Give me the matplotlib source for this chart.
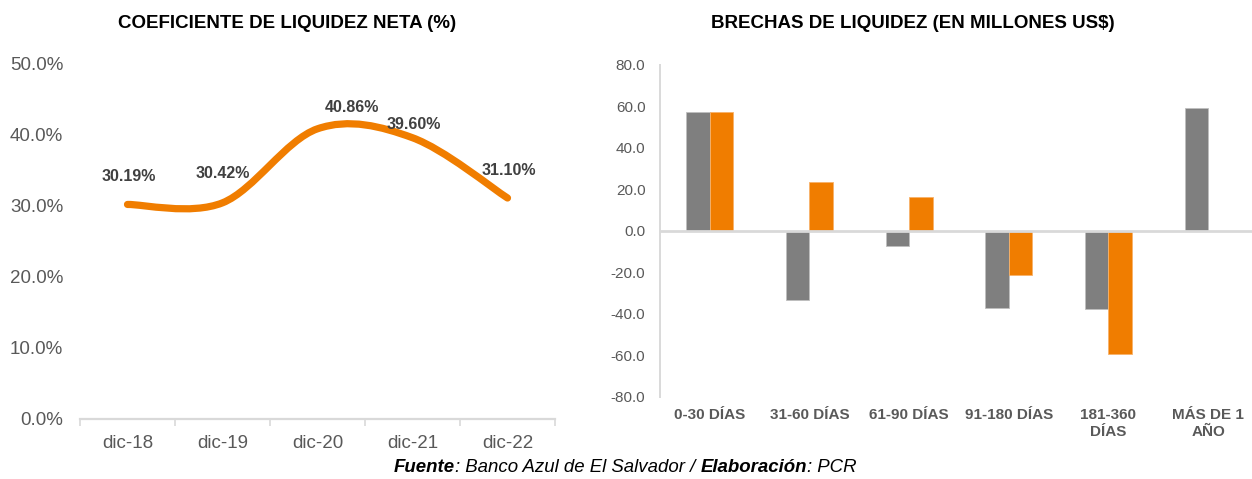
import matplotlib

matplotlib.use("Agg")
import matplotlib.pyplot as plt  # noqa: E402
import numpy as np  # noqa: E402
from matplotlib.offsetbox import AnchoredOffsetbox, HPacker, TextArea  # noqa: E402
from matplotlib.patches import PathPatch  # noqa: E402
from matplotlib.path import Path  # noqa: E402

# ----------------------------------------------------------------------------
# Data
# ----------------------------------------------------------------------------
years = ["dic-18", "dic-19", "dic-20", "dic-21", "dic-22"]
liquidez_neta = [30.19, 30.42, 40.86, 39.60, 31.10]
liquidez_labels = ["30.19%", "30.42%", "40.86%", "39.60%", "31.10%"]

bandas = ["0-30 DÍAS", "31-60 DÍAS", "61-90 DÍAS", "91-180 DÍAS", "181-360\nDÍAS", "MÁS DE 1\nAÑO"]
brecha_gris = [57.5, -33.5, -7.1, -37.4, -37.7, 59.4]
brecha_naranja = [57.5, 23.7, 16.4, -21.1, -59.3, np.nan]

ORANGE = "#F07D00"
GRAY = "#7F7F7F"
AXIS = "#D9D9D9"
TICK = "#595959"

plt.rcParams["font.family"] = ["Liberation Sans", "DejaVu Sans"]

fig = plt.figure(figsize=(12.52, 4.79), dpi=100)

# ----------------------------------------------------------------------------
# Left: smoothed line (Excel-style Bezier through the points)
# ----------------------------------------------------------------------------
ax1 = fig.add_axes([80 / 1252, 60.5 / 479, 475 / 1252, 354.5 / 479])
x = np.arange(len(years), dtype=float)
y = np.asarray(liquidez_neta)
pts = np.column_stack([x, y])
ext = np.vstack([pts[0], pts, pts[-1]])
verts = [tuple(pts[0])]
codes = [Path.MOVETO]
for i in range(len(pts) - 1):
    p0, p1, p2, p3 = ext[i], ext[i + 1], ext[i + 2], ext[i + 3]
    c1 = p1 + (p2 - p0) / 6.0
    c2 = p2 - (p3 - p1) / 6.0
    verts += [tuple(c1), tuple(c2), tuple(p2)]
    codes += [Path.CURVE4] * 3
ax1.add_patch(PathPatch(Path(verts, codes), fill=False, edgecolor=ORANGE, lw=5.2,
                        capstyle="round", joinstyle="round"))

offsets = [(1, 28), (0, 29), (34, 21), (1, 13), (1, 28)]
for xi, yi, lab, off in zip(x, y, liquidez_labels, offsets):
    ax1.annotate(lab, (xi, yi), xytext=off, textcoords="offset pixels", ha="center", va="center",
                 fontsize=11.5, fontweight="bold", color="#404040")

ax1.set_xlim(-0.5, len(years) - 0.5)
ax1.set_ylim(0, 50)
ax1.set_yticks(np.arange(0, 51, 10))
ax1.set_yticklabels([f"{v:.1f}%" for v in np.arange(0, 51, 10)])
ax1.set_xticks(x)
ax1.set_xticklabels(years)
ax1.set_xticks(np.arange(-0.5, len(years)), minor=True)
ax1.tick_params(axis="x", which="major", length=0, pad=12, labelsize=13.5, labelcolor=TICK)
ax1.tick_params(axis="x", which="minor", length=5, width=1.2, color=AXIS, direction="out")
ax1.tick_params(axis="y", length=0, pad=12, labelsize=13.5, labelcolor=TICK)
for s in ("top", "right", "left"):
    ax1.spines[s].set_visible(False)
ax1.spines["bottom"].set_color(AXIS)
ax1.spines["bottom"].set_linewidth(1.6)

# ----------------------------------------------------------------------------
# Right: clustered bars
# ----------------------------------------------------------------------------
ax2 = fig.add_axes([660 / 1252, 82.3 / 479, 598 / 1252, 331.7 / 479])
xb = np.arange(len(bandas), dtype=float)
w = 0.236
ax2.bar(xb - w / 2, brecha_gris, width=w, color=GRAY, edgecolor="#BFBFBF", linewidth=0.6, zorder=2)
ax2.bar(xb + w / 2, brecha_naranja, width=w, color=ORANGE, edgecolor="#F7B26A", linewidth=0.6, zorder=2)
ax2.axhline(0, color=AXIS, lw=2, zorder=3)
ax2.set_xlim(-0.5, len(bandas) - 0.5)
ax2.set_ylim(-80, 80)
ax2.set_yticks(np.arange(-80, 81, 20))
ax2.set_yticklabels([f"{v:.1f}" for v in np.arange(-80, 81, 20)])
ax2.set_xticks(xb)
ax2.set_xticklabels(bandas, fontweight="bold", linespacing=1.25)
ax2.tick_params(axis="x", length=0, pad=8, labelsize=11, labelcolor=TICK)
ax2.tick_params(axis="y", length=0, pad=10.5, labelsize=11, labelcolor=TICK)
for s in ("top", "right", "bottom"):
    ax2.spines[s].set_visible(False)
ax2.spines["left"].set_color(AXIS)
ax2.spines["left"].set_linewidth(1.4)

# ----------------------------------------------------------------------------
# Titles and footer
# ----------------------------------------------------------------------------
fig.text(287 / 1252, 1 - 24 / 479, "COEFICIENTE DE LIQUIDEZ NETA (%)", ha="center", va="center",
         fontsize=13.5, fontweight="bold")
fig.text(913 / 1252, 1 - 24 / 479, "BRECHAS DE LIQUIDEZ (EN MILLONES US$)", ha="center", va="center",
         fontsize=13.5, fontweight="bold")

parts = [("Fuente", "bold"), (": Banco Azul de El Salvador / ", "normal"),
         ("Elaboración", "bold"), (": PCR", "normal")]
boxes = [TextArea(t, textprops=dict(fontsize=13.4, style="italic", fontweight=fw, color="black"))
         for t, fw in parts]
pack = HPacker(children=boxes, align="baseline", pad=0, sep=0)
anch = AnchoredOffsetbox(loc="center", child=pack, frameon=False, pad=0, borderpad=0,
                         bbox_to_anchor=(625 / 1252, 1 - 468 / 479), bbox_transform=fig.transFigure)
fig.add_artist(anch)

fig.savefig("out.png", dpi=100)
